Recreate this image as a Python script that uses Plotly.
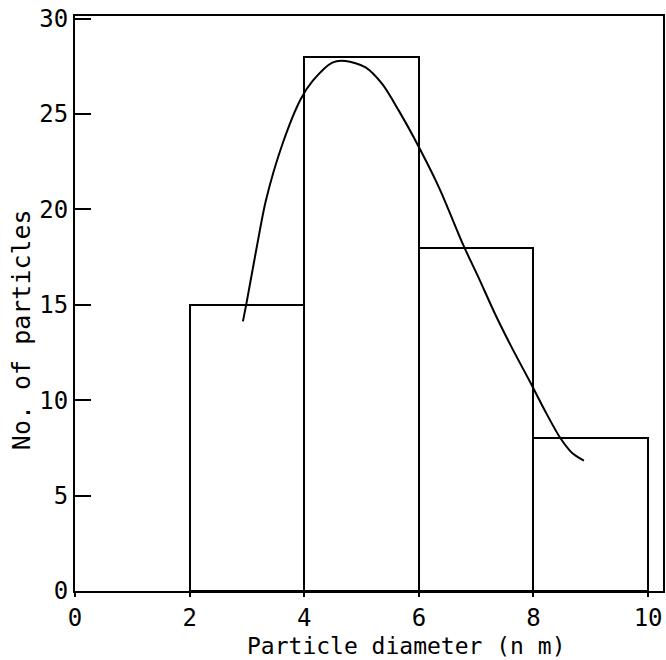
import plotly.graph_objects as go

# Histogram data
bin_centers = [3, 5, 7, 9]
bin_width = 2
counts = [15, 28, 18, 8]

# Fitted distribution curve
curve_x = [2.93, 2.99, 3.16, 3.33, 3.62, 3.94, 4.15, 4.49, 4.72, 5.07, 5.36,
           5.65, 5.91, 6.35, 6.78, 7.04, 7.33, 7.62, 7.96, 8.20, 8.46, 8.67, 8.88]
curve_y = [14.13, 15.05, 17.84, 20.46, 23.43, 25.79, 26.75, 27.70, 27.78, 27.45, 26.58,
           25.18, 23.78, 21.16, 18.10, 16.44, 14.52, 12.77, 10.85, 9.45, 8.06, 7.25, 6.83]

x_ticks = [0, 2, 4, 6, 8, 10]
y_ticks = [0, 5, 10, 15, 20, 25, 30]

FONT = "DejaVu Sans Mono"

fig = go.Figure()
fig.add_trace(go.Bar(
    x=bin_centers, y=counts, width=[bin_width] * len(counts),
    marker=dict(color="white", line=dict(color="black", width=2)),
    showlegend=False, hoverinfo="skip",
))
fig.add_trace(go.Scatter(
    x=curve_x, y=curve_y, mode="lines",
    line=dict(color="black", width=2, shape="spline", smoothing=0.8),
    showlegend=False,
))

fig.update_layout(
    width=666, height=660,
    margin=dict(l=75, r=1, t=16, b=69),
    plot_bgcolor="white", paper_bgcolor="white",
    font=dict(family=FONT, size=24, color="black"),
    bargap=0,
    xaxis=dict(
        range=[0, 10.26], tickvals=x_ticks, ticktext=[str(v) for v in x_ticks],
        showline=True, linecolor="black", linewidth=2, mirror=True,
        ticks="outside", ticklen=4, tickwidth=2, tickcolor="black",
        showgrid=False, zeroline=False,
        tickfont=dict(family=FONT, size=24, color="black"),
    ),
    yaxis=dict(
        range=[0, 30.14], tickvals=y_ticks, ticktext=[str(v) for v in y_ticks],
        showline=True, linecolor="black", linewidth=2, mirror=True,
        ticks="inside", ticklen=16, tickwidth=2, tickcolor="black",
        showgrid=False, zeroline=False,
        tickfont=dict(family=FONT, size=24, color="black"),
    ),
    annotations=[
        dict(text="Particle diameter (n m)", xref="paper", yref="paper",
             x=0.564, y=-0.0957, xanchor="center", yanchor="middle",
             showarrow=False, font=dict(family=FONT, size=23, color="black")),
        dict(text="No. of particles", xref="paper", yref="paper",
             x=-0.0898, y=0.454, xanchor="center", yanchor="middle",
             textangle=-90, showarrow=False,
             font=dict(family=FONT, size=25, color="black")),
    ],
)

fig.write_html("out.html")
